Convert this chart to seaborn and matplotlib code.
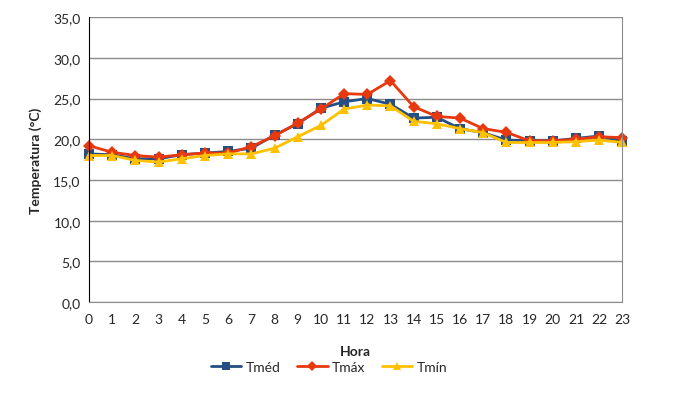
import numpy as np
import pandas as pd
import seaborn as sns
import matplotlib.pyplot as plt
from matplotlib.ticker import MultipleLocator, FuncFormatter

horas = list(range(24))
tmed = [18.2, 18.1, 17.6, 17.6, 18.1, 18.3, 18.5, 18.9, 20.5, 21.9, 23.8, 24.6,
        25.0, 24.3, 22.6, 22.7, 21.3, 20.8, 19.9, 19.8, 19.8, 20.1, 20.4, 19.8]
tmax = [19.2, 18.4, 18.0, 17.8, 18.1, 18.3, 18.3, 19.1, 20.4, 22.0, 23.7, 25.6,
        25.5, 27.2, 24.0, 22.8, 22.6, 21.3, 20.85, 19.8, 19.8, 20.0, 20.3, 20.2]
tmin = [18.0, 18.0, 17.4, 17.2, 17.6, 18.0, 18.2, 18.2, 18.9, 20.3, 21.7, 23.7,
        24.2, 24.1, 22.2, 21.9, 21.3, 20.8, 19.6, 19.6, 19.6, 19.7, 19.9, 19.6]

series = ["Tméd", "Tmáx", "Tmín"]
cores = ["#254E84", "#E8380D", "#FFC000"]
marcadores = ["s", "D", "^"]

df = pd.DataFrame({"Hora": horas, "Tméd": tmed, "Tmáx": tmax, "Tmín": tmin})
df = df.melt(id_vars="Hora", var_name="serie", value_name="temp")

sns.set_style("white")
plt.rcParams["font.family"] = ["Lato", "DejaVu Sans"]

fig = plt.figure(figsize=(6.82, 4.02), dpi=100)
ax = fig.add_axes([0.1305, 0.246, 0.782, 0.709])

for nome, cor, mk in zip(series, cores, marcadores):
    sns.lineplot(data=df[df["serie"] == nome], x="Hora", y="temp", ax=ax,
                 color=cor, marker=mk, markersize=6.5, markeredgewidth=0,
                 linewidth=2, label=nome, clip_on=False)

ax.set_xlim(0, 23)
ax.set_ylim(0, 35)
ax.xaxis.set_major_locator(MultipleLocator(1))
ax.xaxis.set_minor_locator(MultipleLocator(0.5))
ax.yaxis.set_major_locator(MultipleLocator(5))
ax.yaxis.set_major_formatter(FuncFormatter(lambda v, p: f"{v:.1f}".replace(".", ",")))
ax.grid(axis="y", color="#8c8c8c", linewidth=1)
ax.set_axisbelow(True)

ax.spines["top"].set_visible(False)
ax.spines["left"].set_color("black")
ax.spines["bottom"].set_color("#8c8c8c")
ax.spines["right"].set_color("#8c8c8c")
ax.tick_params(axis="x", which="both", direction="in", length=4, color="#8c8c8c",
               labelsize=10, pad=8)
ax.tick_params(axis="y", length=0, labelsize=10, pad=6)

ax.set_xlabel("Hora", fontsize=10, fontweight="bold", labelpad=14)
ax.set_ylabel("Temperatura (°C)", fontsize=10, fontweight="bold", labelpad=8)

ax.legend(loc="center", bbox_to_anchor=(0.45, -0.228), ncol=3, frameon=False,
          fontsize=10, handlelength=2.2, columnspacing=1.2, handletextpad=0.3,
          markerscale=0.85)

fig.savefig("out.png", dpi=100)
